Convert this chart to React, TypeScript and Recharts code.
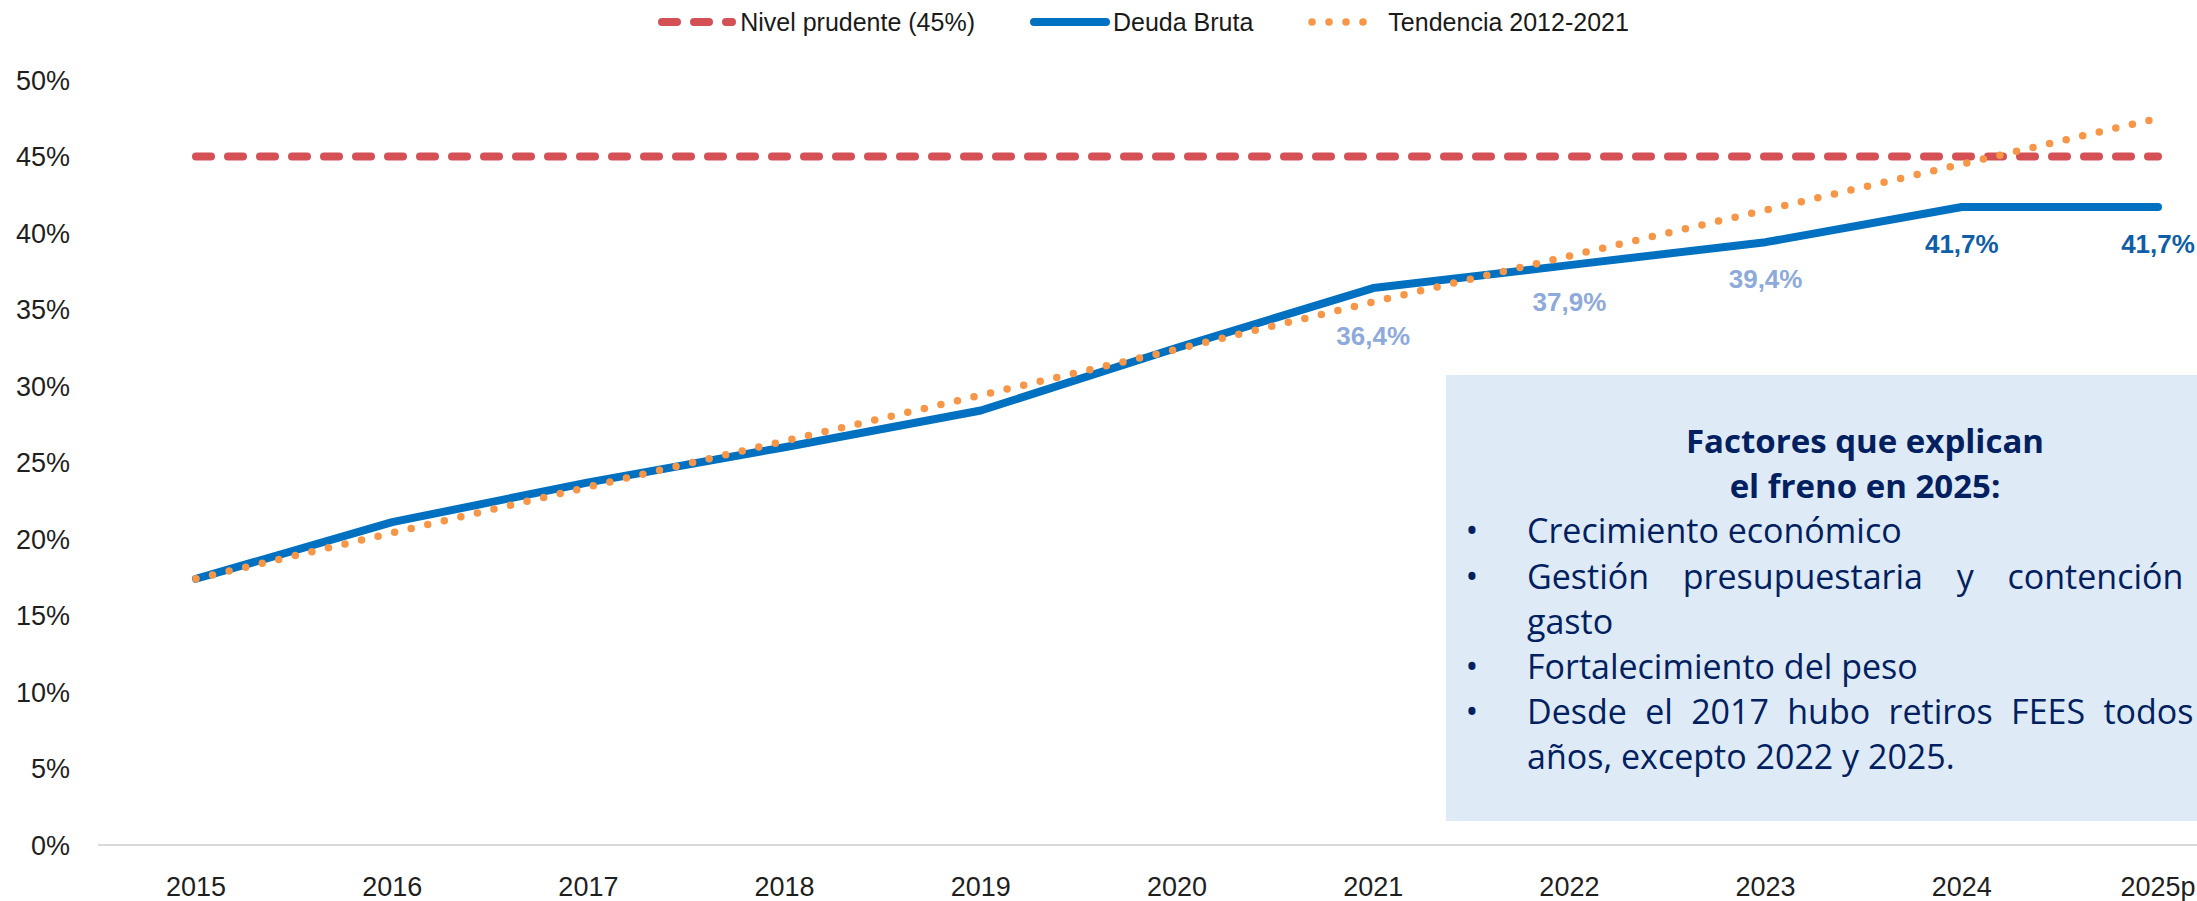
import { LineChart, Line, XAxis, YAxis, LabelList } from "recharts";

const years = ["2015", "2016", "2017", "2018", "2019", "2020", "2021", "2022", "2023", "2024", "2025p"];
const nivelPrudente = [45, 45, 45, 45, 45, 45, 45, 45, 45, 45, 45];
const deudaBruta = [17.4, 21.1, 23.7, 26.0, 28.4, 32.5, 36.4, 37.9, 39.4, 41.7, 41.7];
const tendencia = [17.4, 20.4, 23.4, 26.4, 29.4, 32.4, 35.5, 38.5, 41.5, 44.5, 47.5];
const yTicks = [0, 5, 10, 15, 20, 25, 30, 35, 40, 45, 50];
const labeledYears = ["2021", "2022", "2023", "2024", "2025p"];

const data = years.map((year, i) => ({
  year,
  nivel: nivelPrudente[i],
  deuda: deudaBruta[i],
  tendencia: tendencia[i],
}));

const AXIS_FONT = "'Liberation Sans', Arial, sans-serif";
const BOX_FONT = "'Open Sans', 'Liberation Sans', sans-serif";
const NAVY = "#002060";

const renderLabel = (props: any) => {
  const { x, y, value, index } = props;
  if (!labeledYears.includes(years[index])) return null;
  const dy = index === 6 ? 48 : 37;
  const fill = index >= 9 ? "#0F5EA8" : "#8EAADB";
  return (
    <text
      x={x}
      y={y + dy}
      textAnchor="middle"
      dominantBaseline="central"
      fontFamily={AXIS_FONT}
      fontWeight="bold"
      fontSize={26}
      fill={fill}
    >
      {value.toFixed(1).replace(".", ",")}%
    </text>
  );
};

function LegendIcon({ kind }: { kind: "nivel" | "deuda" | "tendencia" }) {
  return (
    <svg width={80} height={14} style={{ display: "block" }}>
      {kind === "nivel" && (
        <line x1={5} y1={7} x2={75} y2={7} stroke="#D55055" strokeWidth={8} strokeDasharray="15 17" strokeLinecap="round" />
      )}
      {kind === "deuda" && (
        <line x1={4} y1={7} x2={76} y2={7} stroke="#0070C0" strokeWidth={8} strokeLinecap="round" />
      )}
      {kind === "tendencia" && (
        <line x1={4} y1={7} x2={60} y2={7} stroke="#F79646" strokeWidth={7.5} strokeDasharray="0 17" strokeLinecap="round" />
      )}
    </svg>
  );
}

const legendItems: { kind: "nivel" | "deuda" | "tendencia"; label: string }[] = [
  { kind: "nivel", label: "Nivel prudente (45%)" },
  { kind: "deuda", label: "Deuda Bruta" },
  { kind: "tendencia", label: "Tendencia 2012-2021" },
];

const bullet = (text: string, justify = false) => (
  <div style={{ position: "relative", paddingLeft: 81 }}>
    <span style={{ position: "absolute", left: 16, width: 20, textAlign: "center" }}>•</span>
    <div style={justify ? { width: 730, textAlign: "justify", textAlignLast: "justify" } : undefined}>{text}</div>
  </div>
);

export default function App() {
  return (
    <div style={{ position: "fixed", left: 0, top: 0, width: 2197, height: 901, overflow: "hidden", background: "#fff" }}>
      <div style={{ position: "relative", width: 2286, height: 901 }}>
        <LineChart width={2286} height={901} data={data} margin={{ top: 80, right: 30, bottom: 0, left: 0 }}>
          <XAxis
            dataKey="year"
            height={56}
            padding={{ left: 98, right: 98 }}
            tickLine={false}
            tickSize={0}
            tickMargin={32}
            axisLine={{ stroke: "#D9D9D9", strokeWidth: 2 }}
            tick={{ fontSize: 27, fill: "#1f1f1f", fontFamily: AXIS_FONT }}
            interval={0}
          />
          <YAxis
            width={98}
            domain={[0, 50]}
            ticks={yTicks}
            tickFormatter={(v: number) => `${v}%`}
            axisLine={false}
            tickLine={false}
            tickSize={0}
            tickMargin={28}
            tick={{ fontSize: 27, fill: "#1f1f1f", fontFamily: AXIS_FONT }}
          />
          <Line
            dataKey="nivel"
            type="linear"
            stroke="#D55055"
            strokeWidth={8}
            strokeDasharray="15 17"
            strokeLinecap="round"
            dot={false}
            activeDot={false}
            isAnimationActive={false}
          />
          <Line
            dataKey="deuda"
            type="linear"
            stroke="#0070C0"
            strokeWidth={8}
            strokeLinecap="round"
            strokeLinejoin="round"
            dot={false}
            activeDot={false}
            isAnimationActive={false}
          >
            <LabelList dataKey="deuda" content={renderLabel} />
          </Line>
          <Line
            dataKey="tendencia"
            type="linear"
            stroke="#F79646"
            strokeWidth={7.5}
            strokeDasharray="0 17"
            strokeLinecap="round"
            dot={false}
            activeDot={false}
            isAnimationActive={false}
          />
        </LineChart>

        <div
          style={{
            position: "absolute",
            top: 7,
            left: 0,
            width: 2286,
            display: "flex",
            justifyContent: "center",
            alignItems: "center",
            fontFamily: AXIS_FONT,
            fontSize: 25,
            color: "#1a1a1a",
            lineHeight: "30px",
          }}
        >
          {legendItems.map((item, i) => (
            <div key={item.kind} style={{ display: "flex", alignItems: "center", marginLeft: i === 0 ? 0 : 55 }}>
              <LegendIcon kind={item.kind} />
              <span style={{ marginLeft: item.kind === "tendencia" ? 0 : 3 }}>{item.label}</span>
            </div>
          ))}
        </div>

        <div
          style={{
            position: "absolute",
            left: 1446,
            top: 375,
            width: 840,
            height: 446,
            background: "#DEEAF6",
          }}
        />
        <div
          style={{
            position: "absolute",
            left: 1446,
            top: 418,
            width: 840,
            fontFamily: BOX_FONT,
            color: NAVY,
            fontSize: 34,
            lineHeight: "45.2px",
          }}
        >
          <div style={{ width: 838, textAlign: "center", fontWeight: 700, fontSize: 33 }}>
            <div>Factores que explican</div>
            <div>el freno en 2025:</div>
          </div>
          {bullet("Crecimiento económico")}
          {bullet("Gestión presupuestaria y contención de", true)}
          <div style={{ paddingLeft: 81 }}>gasto</div>
          {bullet("Fortalecimiento del peso")}
          {bullet("Desde el 2017 hubo retiros FEES todos los", true)}
          <div style={{ paddingLeft: 81 }}>años, excepto 2022 y 2025.</div>
        </div>
      </div>
    </div>
  );
}
